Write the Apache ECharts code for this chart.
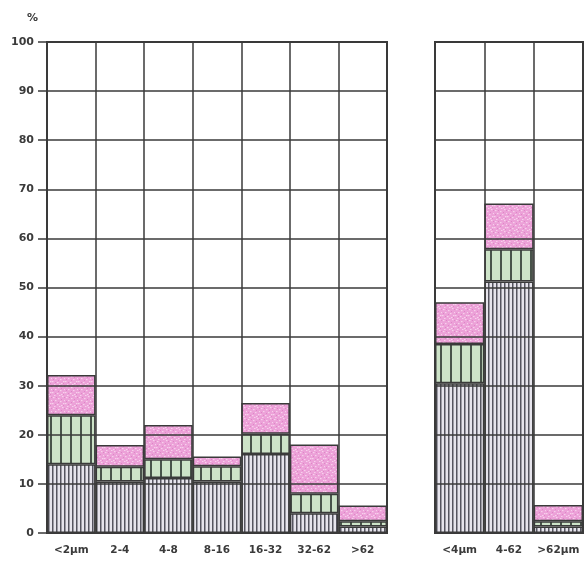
<!DOCTYPE html>
<html>
<head>
<meta charset="utf-8">
<script src="https://cdn.jsdelivr.net/npm/echarts@6/dist/echarts.min.js"></script>
<style>
  html, body { margin: 0; padding: 0; background: #ffffff; }
  #chart { width: 588px; height: 575px; }
</style>
</head>
<body>
<div id="chart"></div>
<script>
// Grain-size classes, left panel (fine to coarse fractions)
const leftCategories = ['<2μm', '2-4', '4-8', '8-16', '16-32', '32-62', '>62'];
// Share of each component, stacked (percent)
const leftGray  = [14.0, 10.5, 11.2, 10.5, 16.1, 4.0, 1.3];
const leftGreen = [10.0, 3.0, 3.8, 3.1, 4.1, 4.0, 1.1];
const leftPink  = [8.2, 4.4, 7.0, 2.0, 6.3, 10.0, 3.2];

// Grouped classes, right panel
const rightCategories = ['<4μm', '4-62', '>62μm'];
const rightGray  = [30.5, 51.2, 1.3];
const rightGreen = [8.0, 6.6, 1.1];
const rightPink  = [8.5, 9.3, 3.3];

// Y axis ticks
const yMin = 0, yMax = 100, yStep = 10;

// Fill textures drawn on small canvases
function makeCanvas(w, h, draw) {
  const c = document.createElement('canvas');
  c.width = w; c.height = h;
  draw(c.getContext('2d'));
  return c;
}
const grayHatch = makeCanvas(4, 4, ctx => {
  ctx.fillStyle = '#e6e4ec';
  ctx.fillRect(0, 0, 4, 4);
  ctx.fillStyle = '#55545f';
  ctx.fillRect(0, 0, 1.5, 4);
});
const greenHatch = makeCanvas(10, 4, ctx => {
  ctx.fillStyle = '#cde3c8';
  ctx.fillRect(0, 0, 10, 4);
  ctx.fillStyle = '#48534a';
  ctx.fillRect(0, 0, 2, 4);
});
// Stipple: a fixed scatter of light and dark specks on pink
const pinkStipple = makeCanvas(13, 11, ctx => {
  ctx.fillStyle = '#eca1d8';
  ctx.fillRect(0, 0, 13, 11);
  ctx.fillStyle = '#f7d0ec';
  [[1,1],[6,2],[10,0],[3,4],[8,5],[12,4],[0,7],[5,8],[9,9],[11,7],[2,10],[7,10]].forEach(p => ctx.fillRect(p[0], p[1], 1.5, 1.2));
  ctx.fillStyle = '#df86c7';
  [[4,1],[9,3],[1,5],[6,6],[11,9],[3,8],[12,1]].forEach(p => ctx.fillRect(p[0], p[1], 1, 1));
});

const lineColor = '#3a3a3a';
const labelFont = { fontFamily: 'DejaVu Sans', fontWeight: 'bold', color: '#3a3a3a' };

function barSeries(name, data, axisIndex, stack, texture) {
  return {
    name: name,
    type: 'bar',
    stack: stack,
    xAxisIndex: axisIndex,
    yAxisIndex: axisIndex,
    data: data,
    barWidth: '100%',
    barGap: '0%',
    barCategoryGap: '0%',
    itemStyle: {
      color: { image: texture, repeat: 'repeat' },
      borderColor: lineColor,
      borderWidth: 1.5
    },
    silent: true
  };
}

function yAxisFor(gridIndex, showLabels) {
  return {
    type: 'value',
    gridIndex: gridIndex,
    min: yMin, max: yMax, interval: yStep,
    z: 5,
    axisLine: { show: true, lineStyle: { color: lineColor, width: 2 } },
    axisTick: { show: showLabels, length: 9, lineStyle: { color: lineColor, width: 1.5 } },
    axisLabel: Object.assign({ show: showLabels, fontSize: 11, margin: 13 }, labelFont),
    splitLine: { show: true, lineStyle: { color: lineColor, width: 1.5 } }
  };
}

function xAxisFor(gridIndex, cats) {
  return {
    type: 'category',
    gridIndex: gridIndex,
    data: cats,
    boundaryGap: true,
    z: 5,
    axisLine: { show: true, lineStyle: { color: lineColor, width: 2 } },
    axisTick: { show: false },
    axisLabel: Object.assign({ fontSize: 10.5, margin: 12, interval: 0 }, labelFont),
    splitLine: { show: true, interval: 0, lineStyle: { color: lineColor, width: 1.5 } }
  };
}

const chart = echarts.init(document.getElementById('chart'), null, { renderer: 'canvas' });
chart.setOption({
  animation: false,
  backgroundColor: '#ffffff',
  graphic: [{
    type: 'text', left: 27, top: 13,
    style: { text: '%', font: 'bold 11px "DejaVu Sans"', fill: '#3a3a3a' }
  }],
  grid: [
    { left: 47, top: 42, width: 340, height: 491, show: true, borderColor: lineColor, borderWidth: 2, backgroundColor: 'transparent' },
    { left: 435, top: 42, width: 148, height: 491, show: true, borderColor: lineColor, borderWidth: 2, backgroundColor: 'transparent' }
  ],
  xAxis: [xAxisFor(0, leftCategories), xAxisFor(1, rightCategories)],
  yAxis: [yAxisFor(0, true), yAxisFor(1, false)],
  series: [
    barSeries('gray', leftGray, 0, 'left', grayHatch),
    barSeries('green', leftGreen, 0, 'left', greenHatch),
    barSeries('pink', leftPink, 0, 'left', pinkStipple),
    barSeries('gray', rightGray, 1, 'right', grayHatch),
    barSeries('green', rightGreen, 1, 'right', greenHatch),
    barSeries('pink', rightPink, 1, 'right', pinkStipple)
  ]
});
</script>
</body>
</html>
